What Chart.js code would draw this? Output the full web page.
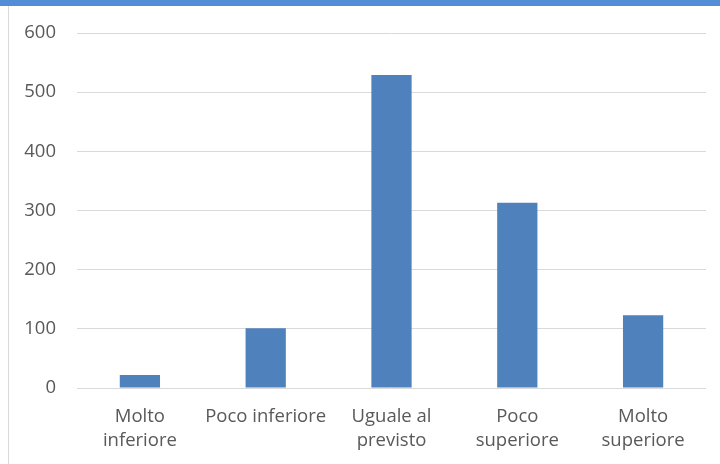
<!DOCTYPE html>
<html>
<head>
<meta charset="utf-8">
<script src="https://cdn.jsdelivr.net/npm/chart.js@4/dist/chart.umd.min.js"></script>
<style>
  body { margin: 0; background: #fff; }
  #topbar { position: absolute; left: 0; top: 0; width: 720px; height: 6px; background: #538dd5; z-index: 2; }
  #box { position: absolute; left: 8px; top: 6px; width: 711px; height: 458px; border-left: 1px solid #d9d9d9; overflow: hidden; }
  #chart { position: absolute; left: 0; top: -6px; }
</style>
</head>
<body>
<div id="topbar"></div>
<div id="box"><canvas id="chart" width="711" height="464"></canvas></div>
<script>
var categories = [
  ["Molto", "inferiore"],
  "Poco inferiore",
  ["Uguale al", "previsto"],
  ["Poco", "superiore"],
  ["Molto", "superiore"]
]
var counts = [22, 101, 529, 313, 123]
var yTicks = [0, 100, 200, 300, 400, 500, 600]

var tickFont = { family: "Open Sans", size: 18.5, lineHeight: 1.3 }

var ctx = document.getElementById("chart").getContext("2d")
var chart = new Chart(ctx, {
  type: "bar",
  data: {
    labels: categories,
    datasets: [
      {
        data: counts,
        backgroundColor: "#4f81bd",
        borderWidth: 0,
        categoryPercentage: 1,
        barPercentage: 0.32
      }
    ]
  },
  options: {
    responsive: false,
    animation: false,
    layout: { padding: { top: 0, right: 14, bottom: 0, left: 0 } },
    plugins: {
      legend: { display: false },
      tooltip: { enabled: false }
    },
    scales: {
      x: {
        grid: { display: false, drawTicks: false },
        border: { display: false },
        ticks: {
          color: "#595959",
          font: tickFont,
          padding: 17,
          maxRotation: 0,
          autoSkip: false
        },
        afterFit: function(scale) { scale.height = 76 }
      },
      y: {
        min: 0,
        max: 600,
        afterBuildTicks: function(scale) {
          scale.ticks = yTicks.map(function(v) { return { value: v } })
        },
        grid: { color: "#d9d9d9", lineWidth: 1, drawTicks: false },
        border: { display: false },
        ticks: {
          color: "#595959",
          font: tickFont,
          padding: 21
        },
        afterFit: function(scale) { scale.width = 68 }
      }
    }
  }
})
</script>
</body>
</html>
